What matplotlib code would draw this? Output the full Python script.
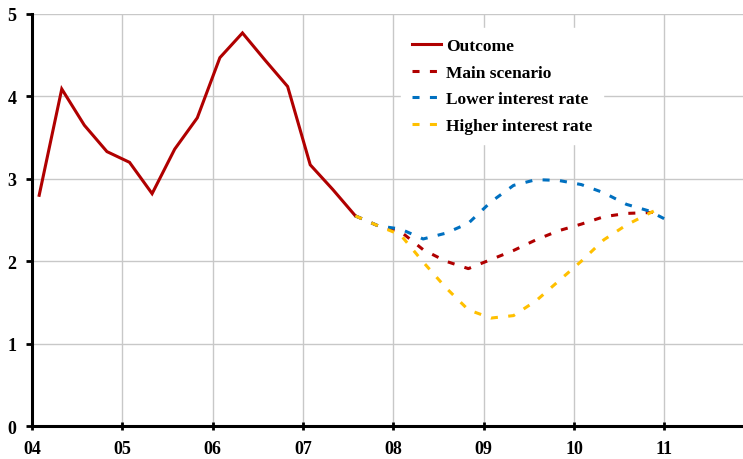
import matplotlib
matplotlib.use("Agg")
import matplotlib.pyplot as plt

# ---- data ----
outcome_x = [2004.08, 2004.33, 2004.58, 2004.83, 2005.08, 2005.33, 2005.58, 2005.83,
             2006.08, 2006.33, 2006.58, 2006.83, 2007.08, 2007.33, 2007.58]
outcome_y = [2.80, 4.09, 3.65, 3.33, 3.20, 2.82, 3.36, 3.74,
             4.47, 4.77, 4.44, 4.12, 3.17, 2.87, 2.55]

main_x = [2007.58, 2007.83, 2008.08, 2008.33, 2008.58, 2008.83, 2009.08, 2009.33,
          2009.58, 2009.83, 2010.08, 2010.33, 2010.58, 2010.83, 2010.96]
main_y = [2.55, 2.43, 2.36, 2.14, 2.00, 1.91, 2.02, 2.13,
          2.26, 2.37, 2.45, 2.54, 2.58, 2.59, 2.60]

lower_x = [2007.58, 2007.83, 2008.08, 2008.33, 2008.58, 2008.83, 2009.08, 2009.33,
           2009.58, 2009.83, 2010.08, 2010.33, 2010.58, 2010.83, 2011.08]
lower_y = [2.55, 2.43, 2.39, 2.27, 2.34, 2.46, 2.72, 2.92,
           2.99, 2.98, 2.93, 2.83, 2.69, 2.61, 2.47]

higher_x = [2007.58, 2007.83, 2008.08, 2008.33, 2008.58, 2008.83, 2009.08, 2009.33,
            2009.58, 2009.83, 2010.08, 2010.33, 2010.58, 2010.83, 2010.96]
higher_y = [2.55, 2.43, 2.32, 1.99, 1.68, 1.41, 1.31, 1.34,
            1.52, 1.76, 2.00, 2.26, 2.44, 2.58, 2.65]

year_ticks = [2004, 2005, 2006, 2007, 2008, 2009, 2010, 2011]
year_labels = ["04", "05", "06", "07", "08", "09", "10", "11"]
y_ticks = [0, 1, 2, 3, 4, 5]

# ---- style ----
plt.rcParams['font.family'] = ['Liberation Serif', 'DejaVu Serif']
plt.rcParams['font.weight'] = 'bold'

RED = '#B00000'
BLUE = '#0070C0'
YELLOW = '#FFC000'
GRID = '#C8C8C8'
dash = (0, (2.3, 3.4))

fig = plt.figure(figsize=(7.43, 4.60), dpi=100)
ax = fig.add_axes([0.043, 0.0717, 0.957, 0.8957])

ax.plot(outcome_x, outcome_y, color=RED, lw=2.2, label='Outcome', zorder=3,
        solid_joinstyle='miter')
ax.plot(main_x, main_y, color=RED, lw=2.2, ls=dash, label='Main scenario', zorder=3)
ax.plot(lower_x, lower_y, color=BLUE, lw=2.2, ls=dash, label='Lower interest rate', zorder=3)
ax.plot(higher_x, higher_y, color=YELLOW, lw=2.2, ls=dash, label='Higher interest rate', zorder=4)

ax.set_xlim(2004, 2011.87)
ax.set_ylim(0, 5)
ax.set_xticks(year_ticks)
ax.set_xticklabels(year_labels)
ax.set_yticks(y_ticks)

ax.grid(True, color=GRID, lw=1.0, zorder=0)
ax.set_axisbelow(True)

for s in ['top', 'right']:
    ax.spines[s].set_visible(False)
for s in ['left', 'bottom']:
    ax.spines[s].set_linewidth(2.2)
    ax.spines[s].set_color('black')
    ax.spines[s].set_zorder(5)

ax.tick_params(axis='y', direction='out', length=4, width=2, pad=7, labelsize=13)
ax.tick_params(axis='x', direction='inout', length=6, width=2, pad=7, labelsize=13)
for lab in ax.get_xticklabels() + ax.get_yticklabels():
    lab.set_fontweight('bold')

leg = ax.legend(loc='upper left', bbox_to_anchor=(0.507, 0.988), frameon=True,
                facecolor='white', edgecolor='white', framealpha=1.0,
                fancybox=False, handlelength=1.72, handletextpad=0.25,
                labelspacing=0.6, borderpad=0.6,
                prop={'family': 'Liberation Serif', 'weight': 'bold', 'size': 12.5})
leg.set_zorder(6)

fig.savefig('out.png', dpi=100)
